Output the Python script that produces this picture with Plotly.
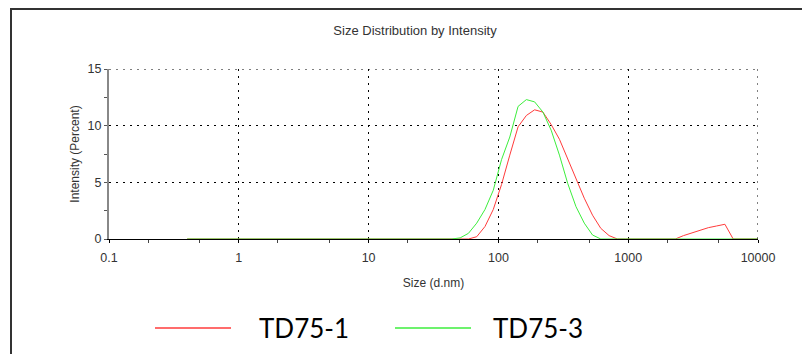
import plotly.graph_objects as go

# Size bins (d.nm)
sizes = [0.4, 0.4632, 0.5365, 0.6213, 0.7195, 0.8332, 0.9649,
         1.117, 1.294, 1.499, 1.736, 2.010, 2.328, 2.696, 3.122, 3.615, 4.187, 4.849, 5.615, 6.503, 7.531, 8.721,
         10.10, 11.70, 13.54, 15.69, 18.17, 21.04, 24.36, 28.21, 32.67, 37.84, 43.82, 50.75, 58.77, 68.06, 78.82, 91.28,
         105.7, 122.4, 141.8, 164.2, 190.1, 220.2, 255.0, 295.3, 342.0, 396.1, 458.7, 531.2, 615.1, 712.4, 825.0, 955.4,
         1106, 1281, 1484, 1718, 1990, 2305, 2669, 3091, 3580, 4145, 4801, 5560, 6439, 7456, 8635, 10000]

# Intensity (%) per bin
td75_1 = [0]*35 + [0.2, 1.1, 2.6, 4.8, 7.4, 9.9, 10.9, 11.4, 11.2, 10.1, 8.8, 7.1, 5.3, 3.6, 2.1, 0.94, 0.3] \
         + [0]*8 + [0.3, 0.55, 0.8, 1.0, 1.15, 1.3] + [0]*4
td75_3 = [0]*33 + [0.1, 0.5, 1.4, 2.6, 4.3, 7.0, 9.0, 11.7, 12.3, 12.1, 11.2, 9.6, 7.4, 4.9, 2.85, 1.4, 0.35] + [0]*20

series_names = ["TD75-1", "TD75-3"]
series_colors = ["#ff3b3b", "#3cee3c"]

x_range_log = [-1, 4]
y_range = [0, 15]
x_tickvals = [0.1, 1, 10, 100, 1000, 10000]
x_ticktext = ["0.1", "1", "10", "100", "1000", "10000"]
y_tickvals = [0, 5, 10, 15]

fig = go.Figure()
for name, vals, col in zip(series_names, [td75_1, td75_3], series_colors):
    fig.add_trace(go.Scatter(x=sizes, y=vals, mode="lines", name=name,
                             line=dict(color=col, width=1), showlegend=False))

# page has an 8px body margin; work in page pixels
OFF = 8
PAGE_W, PAGE_H = 810, 354
W, H = PAGE_W - OFF, PAGE_H - OFF
PL, PR, PT, PB = 109, 758, 69, 239          # plot area in page pixels
L, R, T, B = PL - OFF, W - (PR - OFF), PT - OFF, H - (PB - OFF)
pw, ph = PR - PL, PB - PT

def px_x(p):
    return (p - PL) / pw

def px_y(p):
    return (PB - p) / ph

grid_style = dict(color="black", width=1, dash="2px,5px")

fig.update_layout(
    width=W, height=H,
    margin=dict(l=L, r=R, t=T, b=B, autoexpand=False),
    paper_bgcolor="white", plot_bgcolor="white",
    font=dict(family="Liberation Sans, Arial, sans-serif", color="#333333"),
    title=dict(text="Size Distribution by Intensity", x=(415 - OFF) / W, xanchor="center",
               y=1 - (30 - OFF) / H, yanchor="middle", font=dict(size=13, color="#333333")),
)

fig.update_layout(
    xaxis=dict(
        type="log", range=x_range_log, automargin=False,
        tickvals=x_tickvals, ticktext=x_ticktext,
        tickfont=dict(size=12.5, color="#333333"), ticklabelstandoff=4,
        showline=True, linecolor="black", linewidth=1,
        ticks="outside", ticklen=3, tickcolor="black",
        showgrid=True, gridcolor="black", gridwidth=1, griddash="2px,5px",
        minor=dict(ticks="outside", ticklen=3, tickcolor="#444", showgrid=False),
        zeroline=False,
        title=dict(text="Size (d.nm)", font=dict(size=12, color="#333333"), standoff=14),
    ),
    yaxis=dict(
        range=y_range, tickvals=y_tickvals, automargin=False,
        tickfont=dict(size=12.5, color="#333333"),
        showline=True, linecolor="#888888", linewidth=2,
        ticks="outside", ticklen=3, tickcolor="#555555",
        showgrid=True, gridcolor="black", gridwidth=1, griddash="2px,5px",
        minor=dict(dtick=2.5, ticks="outside", ticklen=3, tickcolor="#555555", showgrid=False),
        zeroline=False,
        title=dict(text="Intensity (Percent)", font=dict(size=12, color="#333333"), standoff=5),
    ),
    # overlay axes that only add the inner half of the crossing tick marks
    xaxis2=dict(
        type="log", range=x_range_log, overlaying="x", anchor="y", side="bottom", automargin=False,
        tickvals=x_tickvals, showticklabels=False, showgrid=False, zeroline=False, showline=False,
        ticks="inside", ticklen=3, tickcolor="black",
        minor=dict(ticks="inside", ticklen=3, tickcolor="#444", showgrid=False),
    ),
    yaxis2=dict(
        range=y_range, overlaying="y", anchor="x", side="left", automargin=False,
        tickvals=y_tickvals, showticklabels=False, showgrid=False, zeroline=False, showline=False,
        ticks="inside", ticklen=3, tickcolor="#555555",
        minor=dict(dtick=2.5, ticks="inside", ticklen=3, tickcolor="#555555", showgrid=False),
    ),
)

# grid lines at the far edges of the plot (plotly omits them)
fig.add_shape(type="line", xref="paper", yref="y", x0=0, x1=1, y0=y_range[1], y1=y_range[1], line=grid_style)
fig.add_shape(type="line", xref="x", yref="paper", x0=x_tickvals[-1], x1=x_tickvals[-1], y0=0, y1=1, line=grid_style)

# outer frame (left and top edges)
fig.add_shape(type="line", xref="paper", yref="paper", x0=px_x(10), x1=px_x(PAGE_W), y0=px_y(9), y1=px_y(9),
              line=dict(color="#333333", width=2))
fig.add_shape(type="line", xref="paper", yref="paper", x0=px_x(11), x1=px_x(11), y0=px_y(9), y1=px_y(PAGE_H),
              line=dict(color="#333333", width=2))

# legend drawn at bottom
leg_y = px_y(328)
leg_items = [(155, 231, 257), (395, 471, 491)]
for (lx0, lx1, tx), name, col in zip(leg_items, series_names, series_colors):
    fig.add_shape(type="line", xref="paper", yref="paper", x0=px_x(lx0), x1=px_x(lx1), y0=leg_y, y1=leg_y,
                  line=dict(color=col, width=1.5))
    fig.add_annotation(xref="paper", yref="paper", x=px_x(tx), y=leg_y, xanchor="left", yanchor="middle",
                       text=name, showarrow=False, font=dict(family="Lato, sans-serif", size=26, color="black"))

fig.write_html("out.html")
